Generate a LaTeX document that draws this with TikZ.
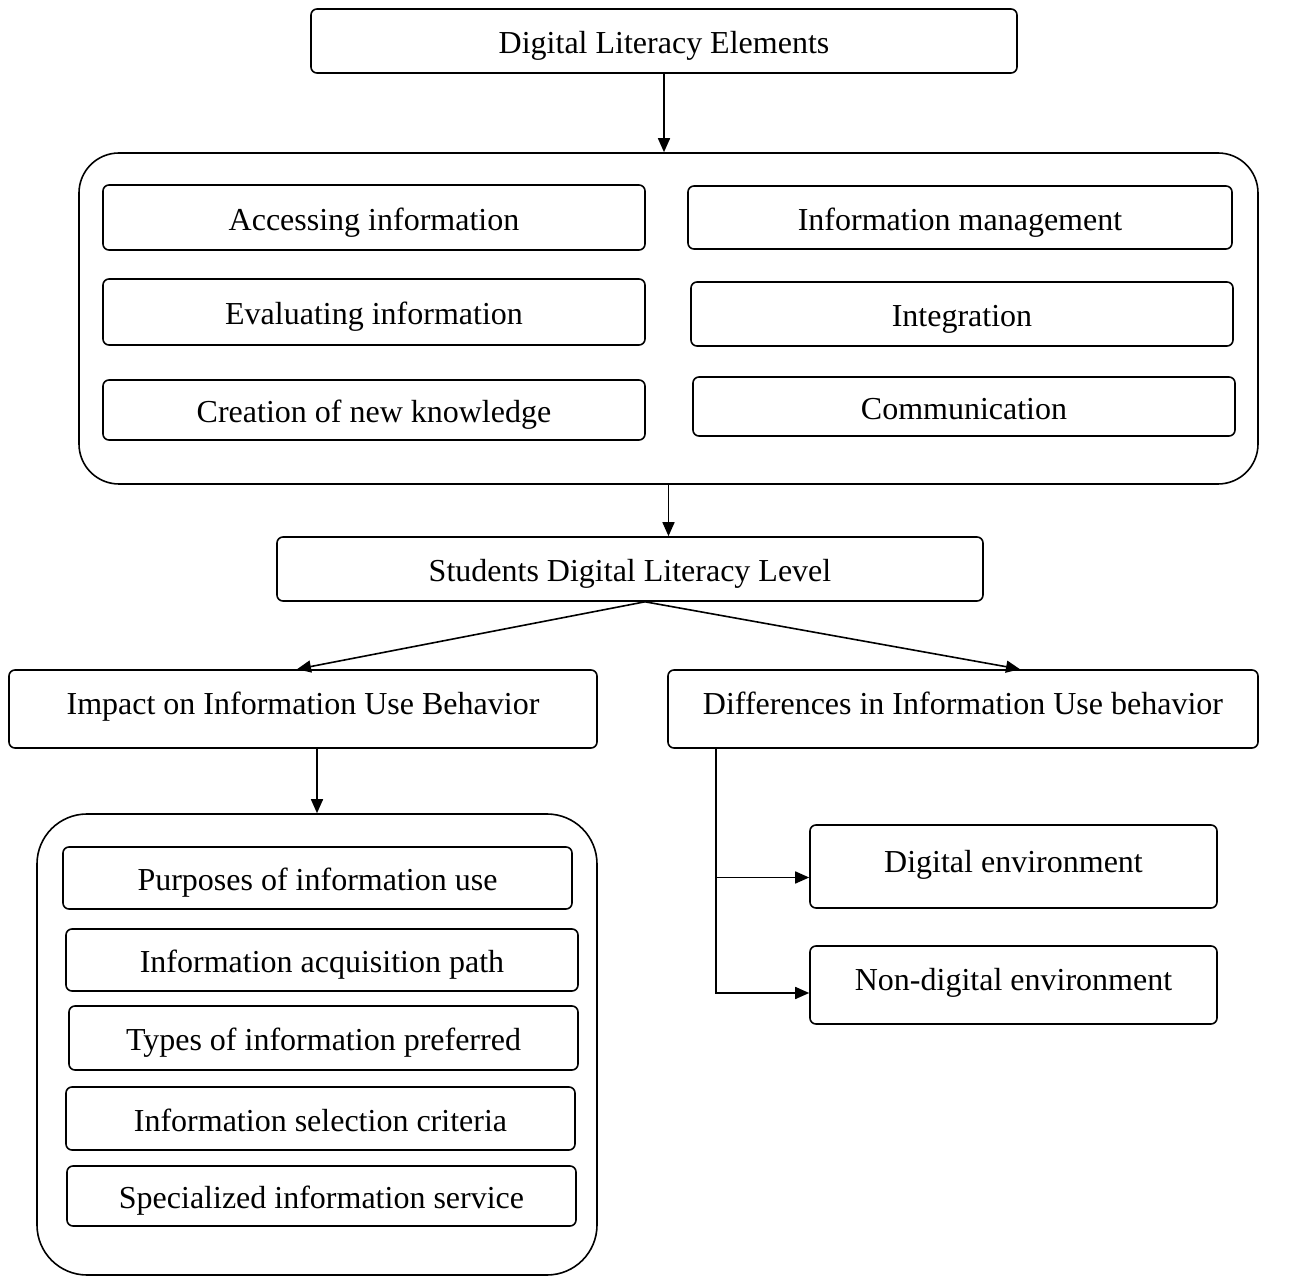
\documentclass[tikz,border=0pt]{standalone}
\usepackage{fontspec}
\setmainfont{Liberation Serif}
\usetikzlibrary{arrows.meta}
\tikzset{
  item/.style={draw, line width=0.8pt, rounded corners=3pt, inner sep=0pt, align=center, text height=17pt, text depth=4pt},
  hightext/.style={text depth=11pt},
  holder/.style={draw, line width=0.8pt, inner sep=0pt},
  link/.style={->, line width=0.8pt}
}
\begin{document}
\begin{tikzpicture}[x=0.5pt, y=-0.5pt, >={Triangle[length=7pt,width=6pt]}, font=\fontsize{16}{19}\selectfont]
\useasboundingbox (0,0) rectangle (1297,1277);
% top part
\node[item, minimum width=353pt, minimum height=32pt] (elem) at (664,41) {Digital Literacy Elements};
\node[holder, rounded corners=20pt, minimum width=589.5pt, minimum height=165.5pt] (group1) at (668.5,318.5) {};
\node[item, minimum width=271pt, minimum height=32.5pt] (access) at (374,217.5) {Accessing information};
\node[item, minimum width=271pt, minimum height=33pt] (evaluate) at (374,312) {Evaluating information};
\node[item, minimum width=271pt, minimum height=30pt] (create) at (374,410) {Creation of new knowledge};
\node[item, minimum width=272pt, minimum height=31.5pt] (manage) at (960,217.5) {Information management};
\node[item, minimum width=271pt, minimum height=32pt] (integ) at (962,314) {Integration};
\node[item, minimum width=271pt, minimum height=29.5pt] (commu) at (964,406.5) {Communication};
\draw[link] (elem.south) -- (elem.south |- group1.north);
% level
\node[item, minimum width=353pt, minimum height=32pt] (level) at (630,569) {Students Digital Literacy Level};
\draw[link] (group1.south) -- (group1.south |- level.north);
\node[item, hightext, minimum width=294pt, minimum height=39pt] (impact) at (303,709) {Impact on Information Use Behavior};
\node[item, hightext, minimum width=295pt, minimum height=39pt] (differ) at (963,709) {Differences in Information Use behavior};
\coordinate (fork) at ([xshift=7.5pt]level.south);
\draw[link] (fork) -- ([xshift=-3pt]impact.north);
\draw[link] (fork) -- ([xshift=28.5pt]differ.north);
% behaviour list
\node[holder, rounded corners=25pt, minimum width=280pt, minimum height=230.5pt] (group2) at (317,1044.5) {};
\node[item, minimum width=254.5pt, minimum height=31pt] (purpose) at (317.5,878) {Purposes of information use};
\node[item, minimum width=256pt, minimum height=31pt] (path) at (322,960) {Information acquisition path};
\node[item, minimum width=254.5pt, minimum height=32pt] (types) at (323.5,1038) {Types of information preferred};
\node[item, minimum width=254.5pt, minimum height=31.5pt] (select) at (320.5,1118.5) {Information selection criteria};
\node[item, minimum width=254.5pt, minimum height=30pt] (service) at (321.5,1196) {Specialized information service};
\draw[link] (group2.north |- impact.south) -- (group2.north);
% environments
\node[item, hightext, minimum width=203.5pt, minimum height=41.5pt] (digital) at (1013.5,866.5) {Digital environment};
\node[item, hightext, minimum width=203.5pt, minimum height=39pt] (nondigital) at (1013.5,985) {Non-digital environment};
\coordinate (trunk) at ([xshift=24.5pt]differ.south west);
\draw[link] (trunk) |- ([yshift=-5.5pt]digital.west);
\draw[link] (trunk) |- ([yshift=-4pt]nondigital.west);
\end{tikzpicture}
\end{document}
